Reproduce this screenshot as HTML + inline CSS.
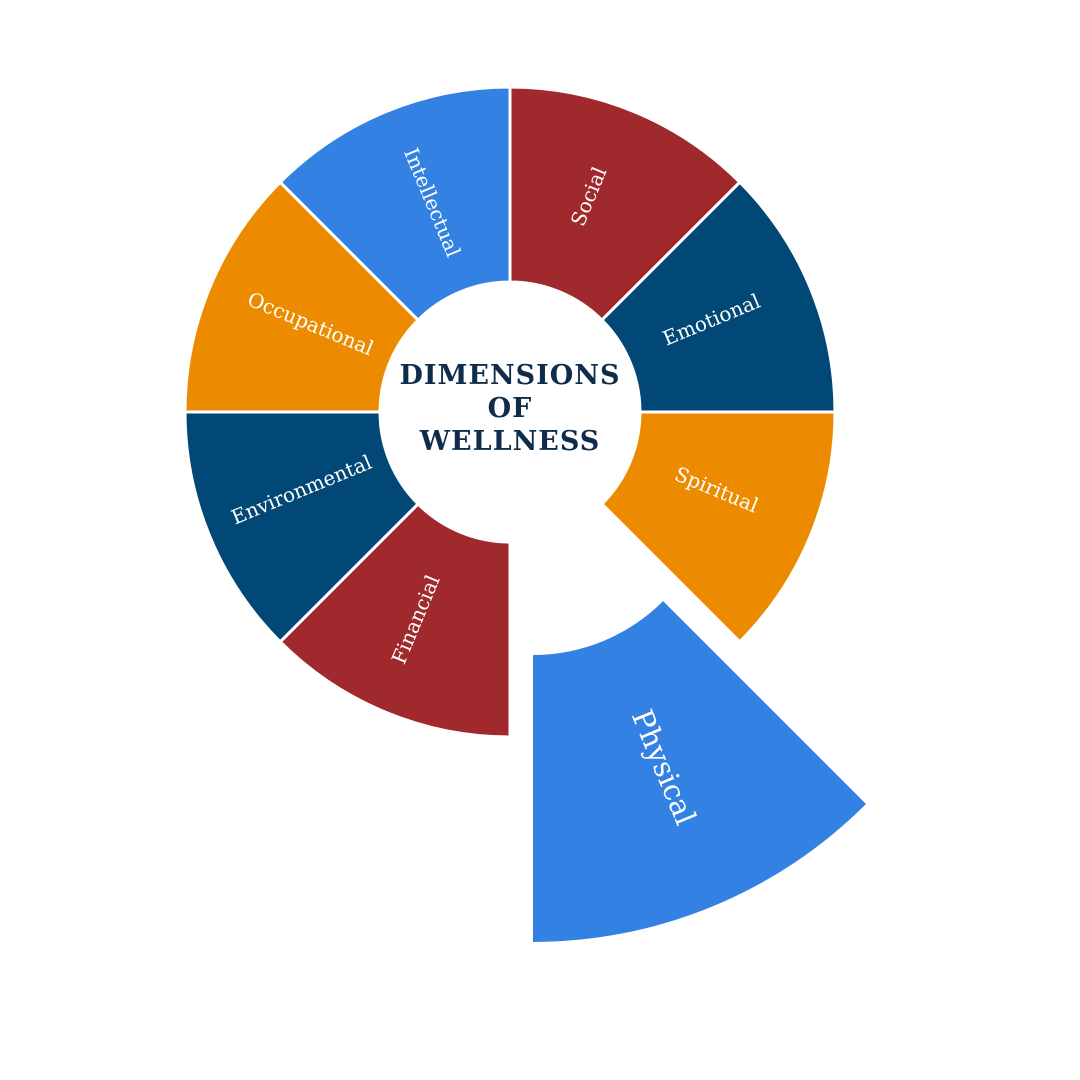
<!DOCTYPE html>
<html><head><meta charset="utf-8"><style>
html,body{margin:0;padding:0;background:#fff}
svg{display:block}
text{font-family:"DejaVu Serif","Liberation Serif",serif;fill:#fff}
</style></head><body>
<svg width="1080" height="1080" viewBox="0 0 1080 1080">
<g stroke="#fff" stroke-width="3">
<path d="M510,87 A325,325 0 0 1 739.8,182.2 L601.9,320.1 A130,130 0 0 0 510,282 Z" fill="#A0292D"/>
<path d="M739.8,182.2 A325,325 0 0 1 835,412 L640,412 A130,130 0 0 0 601.9,320.1 Z" fill="#024876"/>
<path d="M835,412 A325,325 0 0 1 739.8,641.8 L601.9,503.9 A130,130 0 0 0 640,412 Z" fill="#EC8A00"/>
<path d="M510,737 A325,325 0 0 1 280.2,641.8 L418.1,503.9 A130,130 0 0 0 510,542 Z" fill="#A0292D"/>
<path d="M280.2,641.8 A325,325 0 0 1 185,412 L380,412 A130,130 0 0 0 418.1,503.9 Z" fill="#024876"/>
<path d="M185,412 A325,325 0 0 1 280.2,182.2 L418.1,320.1 A130,130 0 0 0 380,412 Z" fill="#EC8A00"/>
<path d="M280.2,182.2 A325,325 0 0 1 510,87 L510,282 A130,130 0 0 0 418.1,320.1 Z" fill="#3381E2"/>
</g>
<path d="M866,804 A471,471 0 0 1 533,942 L533,655 A184,184 0 0 0 663.1,601.1 Z" fill="#3381E2"/>
<g font-size="20" text-anchor="middle" dominant-baseline="middle">
<text transform="translate(590,197) rotate(-67.5)">Social</text>
<text transform="translate(712,321) rotate(-22.5)">Emotional</text>
<text transform="translate(716,491) rotate(22.5)">Spiritual</text>
<text transform="translate(417,620) rotate(-67.5)">Financial</text>
<text transform="translate(302,491) rotate(-22.5)">Environmental</text>
<text transform="translate(310,325) rotate(22.5)">Occupational</text>
<text transform="translate(431,203) rotate(67.5)">Intellectual</text>
<text transform="translate(662,768) rotate(67.5)" font-size="29">Physical</text>
</g>
<g font-size="27" font-weight="bold" text-anchor="middle" letter-spacing="1">
<text x="510" y="384" style="fill:#0F2D4A">DIMENSIONS</text>
<text x="510" y="417" style="fill:#0F2D4A">OF</text>
<text x="510" y="450" style="fill:#0F2D4A">WELLNESS</text>
</g>
</svg>
</body></html>
